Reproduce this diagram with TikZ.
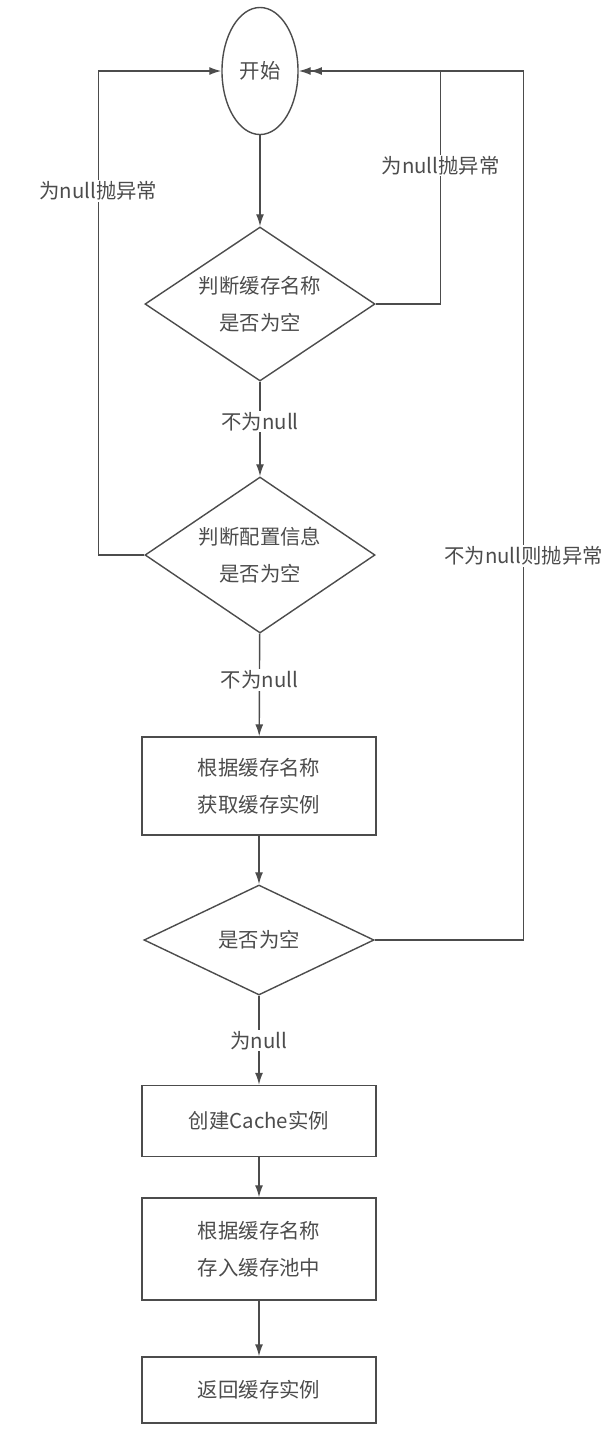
\documentclass[tikz,border=0pt]{standalone}
\usepackage{fontspec}
\newfontfamily\cjk{Noto Sans CJK SC}
\usetikzlibrary{shapes.geometric,arrows.meta}
\tikzset{
  testo/.style={font={\cjk\fontsize{14.5pt}{26pt}\selectfont}, align=center},
  inizio/.style={testo, ellipse, draw, inner sep=0pt, minimum width=1.9cm, minimum height=3.175cm},
  rombo/.style={testo, diamond, draw, inner sep=0pt, shape aspect=1.5, minimum width=5.75cm},
  blocco/.style={testo, rectangle, draw, minimum width=5.85cm},
  etichetta/.style={testo, fill=white, inner sep=1pt},
  freccia/.style={-{Latex[length=3mm,width=2mm]}},
}
\begin{document}
\begin{tikzpicture}[x=0.025cm, y=-0.025cm, line width=1pt, color=black!70]
        \useasboundingbox (0,0) rectangle (608,1436);
        %disegno blocchi
        \node[inizio] (inizio) at (260,71) {开始};
        \node[rombo, minimum height=3.85cm] (rombo1) at (260,304) {判断缓存名称\\是否为空};
        \node[rombo, minimum height=3.9cm] (rombo2) at (260,555) {判断配置信息\\是否为空};
        \node[blocco, minimum height=2.45cm] (blocco1) at (259,786) {根据缓存名称\\获取缓存实例};
        \node[rombo, minimum height=2.75cm] (rombo3) at (259,940) {是否为空};
        \node[blocco, minimum height=1.775cm] (blocco2) at (259,1121) {创建Cache实例};
        \node[blocco, minimum height=2.55cm] (blocco3) at (259,1249) {根据缓存名称\\存入缓存池中};
        \node[blocco, minimum height=1.65cm] (blocco4) at (259,1390) {返回缓存实例};
        %frecce principali
        \draw[freccia] (inizio) -- (rombo1);
        \draw[freccia] (rombo1) -- node[etichetta, pos=0.42] {不为null} (rombo2);
        \draw[freccia] (rombo2) -- node[etichetta, pos=0.45] {不为null} (blocco1);
        \draw[freccia] (blocco1) -- (rombo3);
        \draw[freccia] (rombo3) -- node[etichetta] {为null} (blocco2);
        \draw[freccia] (blocco2) -- (blocco3);
        \draw[freccia] (blocco3) -- (blocco4);
        %ritorni a inizio
        \draw[freccia] (rombo2.west) -- ++(-46,0) |- node[etichetta, pos=0.376] {为null抛异常} (inizio.west); %sinistra
        \draw[freccia] (rombo1.east) -- ++(65,0) |- node[etichetta, pos=0.297] {为null抛异常} (inizio.east); %destra interno
        \draw[freccia, shorten >=8] (rombo3.east) -- ++(149,0) |- node[etichetta, pos=0.221] {不为null则抛异常} (inizio.east); %destra esterno
\end{tikzpicture}
\end{document}
